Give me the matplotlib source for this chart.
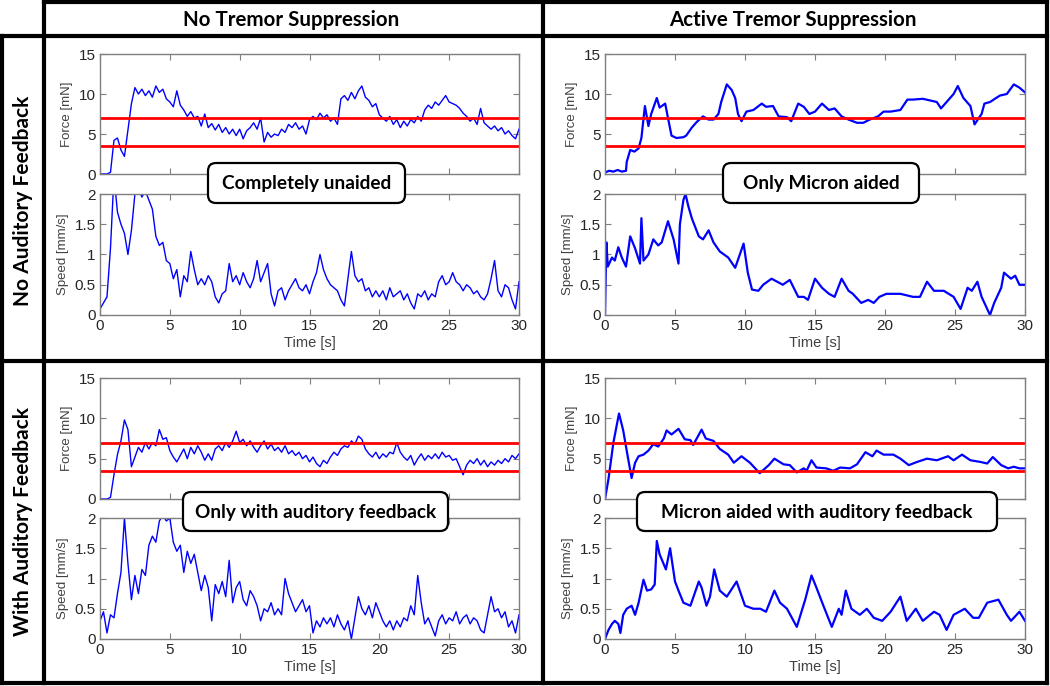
import numpy as np
import matplotlib
matplotlib.use("Agg")
import matplotlib.pyplot as plt
from matplotlib.patches import FancyBboxPatch

W, H = 1050, 686

# ---- data ----
t_grid = np.arange(121) * 0.25  # 0 .. 30 s

force_none = [
    0, 0, 0, 0.2, 4.2, 4.5, 3.0, 2.2, 5.5, 8.8, 10.8, 10.0, 10.6, 9.8, 10.4, 9.6,
    11.0, 10.2, 10.6, 9.4, 9.0, 8.4, 10.4, 8.6, 8.0, 7.2, 7.8, 7.0, 7.2, 6.0, 7.5, 5.8,
    6.3, 5.5, 6.2, 5.2, 5.8, 5.0, 5.6, 4.8, 5.6, 4.4, 5.4, 5.8, 6.4, 5.6, 7.0, 4.0,
    5.2, 4.6, 5.0, 4.8, 5.6, 5.2, 6.2, 5.8, 6.4, 5.6, 6.0, 5.0, 6.8, 7.2, 6.8, 7.6,
    7.0, 7.4, 6.6, 7.0, 6.2, 9.4, 9.8, 9.2, 10.2, 9.4, 10.4, 11.0, 9.6, 9.2, 8.4, 8.8,
    7.4, 7.0, 6.6, 7.2, 6.2, 6.8, 5.8, 6.6, 6.0, 6.8, 6.4, 7.2, 6.6, 8.0, 8.6, 8.2,
    9.0, 8.6, 9.2, 9.8, 9.0, 8.8, 8.6, 8.2, 7.6, 7.2, 6.6, 7.0, 6.2, 8.2, 6.4, 6.0,
    5.6, 6.0, 5.4, 5.8, 5.0, 5.4, 4.8, 4.4, 5.6,
]
speed_none = [
    0.10, 0.20, 0.30, 1.10, 2.30, 1.70, 1.50, 1.35, 1.00, 1.40, 2.00, 2.10, 1.95, 2.05, 1.90, 1.75,
    1.30, 1.15, 1.20, 0.90, 0.85, 0.60, 0.75, 0.30, 0.65, 0.55, 1.05, 0.75, 0.50, 0.60, 0.50, 0.65,
    0.55, 0.30, 0.20, 0.35, 0.40, 0.85, 0.55, 0.65, 0.50, 0.70, 0.55, 0.45, 0.60, 0.90, 0.55, 0.70,
    0.85, 0.35, 0.15, 0.40, 0.45, 0.25, 0.40, 0.50, 0.60, 0.45, 0.40, 0.50, 0.35, 0.55, 0.70, 1.00,
    0.75, 0.60, 0.50, 0.45, 0.40, 0.25, 0.15, 0.60, 1.05, 0.65, 0.55, 0.60, 0.40, 0.45, 0.30, 0.40,
    0.30, 0.40, 0.25, 0.45, 0.30, 0.35, 0.40, 0.25, 0.35, 0.20, 0.10, 0.35, 0.30, 0.40, 0.25, 0.35,
    0.30, 0.55, 0.65, 0.50, 0.55, 0.70, 0.55, 0.50, 0.40, 0.50, 0.45, 0.35, 0.40, 0.30, 0.25, 0.35,
    0.60, 0.90, 0.40, 0.30, 0.50, 0.45, 0.25, 0.10, 0.55,
]
force_audio = [
    0, 0, 0, 0.2, 3.0, 5.5, 7.2, 9.8, 8.6, 4.0, 5.2, 6.4, 5.8, 7.0, 6.2, 7.0,
    6.6, 8.6, 7.4, 7.6, 6.0, 5.2, 4.6, 5.4, 6.2, 5.0, 6.4, 5.6, 6.6, 5.8, 4.8, 5.6,
    4.8, 6.2, 6.6, 6.0, 7.0, 6.4, 7.2, 8.4, 7.0, 7.4, 6.6, 7.2, 6.4, 5.8, 6.6, 7.2,
    6.2, 6.8, 6.0, 6.4, 5.8, 6.6, 5.6, 6.0, 5.4, 5.8, 5.0, 5.4, 4.6, 5.2, 4.4, 4.0,
    4.8, 4.4, 5.2, 5.8, 5.4, 6.2, 6.6, 6.4, 7.2, 6.8, 7.8, 7.4, 6.2, 5.6, 5.2, 5.8,
    5.0, 5.6, 5.2, 5.8, 5.6, 7.0, 5.8, 5.2, 4.8, 5.4, 4.2, 5.0, 5.6, 4.8, 5.4, 5.0,
    5.6, 5.0, 5.8, 5.2, 5.4, 4.8, 5.0, 4.0, 3.0, 4.2, 4.8, 4.4, 5.0, 4.2, 4.8, 4.0,
    4.6, 4.2, 4.8, 4.4, 5.0, 4.6, 5.4, 5.0, 5.6,
]
speed_audio = [
    0.30, 0.45, 0.10, 0.40, 0.35, 0.75, 1.10, 2.00, 1.25, 0.65, 1.05, 0.75, 1.15, 1.05, 1.55, 1.70,
    1.60, 1.95, 2.05, 1.95, 2.00, 1.60, 1.45, 1.55, 1.10, 1.45, 1.25, 1.40, 1.10, 0.80, 1.05, 0.85,
    0.30, 0.90, 0.75, 0.95, 0.70, 1.30, 0.60, 0.85, 0.95, 0.65, 0.55, 0.80, 0.70, 0.55, 0.30, 0.50,
    0.45, 0.60, 0.40, 0.50, 0.40, 1.00, 0.75, 0.60, 0.45, 0.55, 0.65, 0.45, 0.55, 0.10, 0.30, 0.20,
    0.35, 0.25, 0.35, 0.20, 0.40, 0.25, 0.15, 0.30, 0.00, 0.35, 0.70, 0.50, 0.40, 0.55, 0.35, 0.60,
    0.45, 0.30, 0.20, 0.30, 0.15, 0.30, 0.20, 0.35, 0.30, 0.55, 0.40, 1.05, 0.60, 0.25, 0.35, 0.20,
    0.05, 0.30, 0.40, 0.25, 0.35, 0.30, 0.45, 0.25, 0.35, 0.40, 0.25, 0.35, 0.30, 0.15, 0.10, 0.40,
    0.70, 0.45, 0.50, 0.35, 0.45, 0.20, 0.30, 0.10, 0.40,
]

t_fm = [0, 0.3, 0.6, 0.9, 1.2, 1.5, 1.55, 1.8, 2.1, 2.4, 2.6, 2.85, 3.1, 3.3, 3.7, 3.9, 4.3, 4.5,
        4.75, 5.1, 5.6, 5.8, 6.2, 6.55, 7.0, 7.4, 7.75, 8.1, 8.3, 8.7, 9.05, 9.3, 9.5, 9.75, 10.1,
        10.6, 11.2, 11.5, 12.0, 12.4, 13.0, 13.3, 13.8, 14.2, 14.6, 15.0, 15.5, 16.0, 16.4, 16.9,
        17.4, 18.0, 18.45, 18.9, 19.5, 19.9, 20.4, 21.1, 21.6, 22.0, 22.7, 23.7, 24.0, 24.5, 24.9,
        25.2, 25.6, 26.1, 26.4, 26.7, 26.9, 27.1, 27.5, 28.2, 28.7, 29.2, 29.6, 30.0]
force_micron = [0.2, 0.4, 0.3, 0.5, 0.3, 0.4, 1.5, 3.0, 2.8, 3.2, 4.5, 8.5, 6.0, 7.5, 9.5, 8.3, 8.8, 7.0,
                4.8, 4.5, 4.6, 4.8, 5.8, 6.5, 7.2, 6.8, 6.8, 7.5, 9.0, 11.2, 10.5, 9.5, 7.5, 6.6, 7.8,
                8.0, 8.8, 8.4, 8.5, 7.2, 7.1, 6.6, 8.8, 8.4, 7.5, 7.8, 8.8, 8.0, 8.2, 7.2,
                6.8, 6.4, 6.4, 6.8, 7.2, 7.8, 7.8, 8.0, 9.3, 9.3, 9.4, 9.0, 8.2, 9.2, 10.0,
                11.0, 9.5, 8.5, 6.2, 7.0, 7.5, 8.8, 9.0, 9.8, 10.0, 11.2, 10.8, 10.2]

t_sm = [0, 0.1, 0.2, 0.5, 0.7, 0.95, 1.2, 1.5, 1.8, 2.15, 2.5, 2.6, 2.75, 3.1, 3.45, 3.8, 4.05, 4.5,
        4.9, 5.25, 5.35, 5.6, 5.75, 5.95, 6.2, 6.7, 7.0, 7.4, 7.75, 8.2, 8.8, 9.3, 9.9, 10.2, 10.5,
        10.95, 11.3, 11.9, 12.3, 12.7, 13.2, 13.8, 14.2, 14.5, 15.0, 15.5, 16.0, 16.4, 16.9, 17.4,
        17.7, 18.3, 18.8, 19.2, 19.6, 20.1, 21.1, 22.0, 22.5, 23.0, 23.5, 24.2, 24.9, 25.4, 25.9,
        26.2, 26.6, 26.9, 27.2, 27.5, 27.8, 28.3, 28.5, 29.0, 29.3, 29.6, 30.0]
speed_micron = [0.0, 1.2, 0.8, 0.95, 0.9, 1.12, 0.95, 0.8, 1.3, 1.1, 0.85, 1.6, 0.9, 1.0, 1.25, 1.15, 1.2, 1.55,
                1.25, 0.85, 1.5, 1.9, 2.0, 1.8, 1.6, 1.3, 1.25, 1.4, 1.2, 1.05, 0.95, 0.78, 1.18, 0.7, 0.42,
                0.4, 0.5, 0.6, 0.55, 0.5, 0.58, 0.3, 0.3, 0.25, 0.6, 0.45, 0.35, 0.3, 0.6, 0.4,
                0.35, 0.2, 0.25, 0.2, 0.3, 0.35, 0.35, 0.3, 0.3, 0.55, 0.4, 0.4, 0.3, 0.1, 0.45,
                0.4, 0.55, 0.3, 0.15, 0.0, 0.2, 0.45, 0.7, 0.6, 0.65, 0.5, 0.5]

t_fb = [0, 0.25, 0.6, 1.0, 1.3, 1.6, 1.9, 2.15, 2.4, 2.75, 3.1, 3.45, 3.8, 4.2, 4.4, 4.75, 5.25, 5.7,
        6.1, 6.3, 6.9, 7.2, 7.75, 8.2, 8.8, 9.2, 9.75, 10.35, 11.05, 11.7, 12.1, 12.75, 13.2, 13.7,
        14.2, 14.4, 14.75, 15.1, 15.8, 16.3, 16.8, 17.5, 18.0, 18.6, 19.1, 19.4, 19.9, 20.6, 21.1,
        21.7, 22.3, 23.0, 23.7, 24.5, 24.9, 25.5, 26.1, 26.8, 27.3, 27.7, 28.3, 28.8, 29.2, 29.6, 30.0]
force_both = [0, 2.5, 7.0, 10.6, 8.5, 5.5, 2.6, 4.5, 5.3, 5.5, 6.0, 6.8, 6.5, 7.5, 8.5, 8.0, 8.7, 7.4,
              7.3, 6.7, 8.6, 7.5, 7.2, 6.2, 5.5, 4.5, 5.3, 4.5, 3.2, 4.2, 5.0, 4.3, 4.2, 3.3,
              3.8, 3.5, 4.8, 3.9, 3.8, 3.5, 3.9, 3.8, 4.3, 5.8, 5.3, 6.0, 5.5, 5.5, 5.0,
              4.2, 4.6, 5.0, 4.8, 5.3, 4.8, 5.5, 4.8, 4.6, 4.4, 5.2, 4.2, 3.8, 4.0, 3.8, 3.8]

t_sb = [0, 0.25, 0.5, 0.7, 0.95, 1.1, 1.3, 1.55, 1.9, 2.15, 2.4, 2.75, 3.0, 3.3, 3.55, 3.7, 3.9, 4.35,
        4.65, 5.0, 5.25, 5.6, 6.1, 6.7, 6.9, 7.25, 7.5, 7.8, 8.2, 8.7, 9.4, 10.0, 10.6, 11.1, 11.5,
        12.1, 12.5, 13.0, 13.7, 14.3, 14.75, 15.1, 15.6, 16.2, 16.7, 16.9, 17.2, 17.6, 18.2, 18.7,
        19.2, 19.8, 20.4, 21.1, 21.55, 22.2, 22.7, 23.5, 23.9, 24.4, 24.9, 25.7, 26.3, 26.7, 27.3,
        28.1, 28.7, 29.0, 29.6, 30.0]
speed_both = [0, 0.15, 0.25, 0.3, 0.25, 0.1, 0.4, 0.5, 0.55, 0.4, 0.6, 0.98, 0.8, 0.82, 0.9, 1.62, 1.4, 1.15,
              1.5, 0.95, 0.8, 0.6, 0.55, 0.95, 0.85, 0.55, 0.7, 1.15, 0.8, 0.7, 0.95, 0.55, 0.5, 0.5, 0.45,
              0.8, 0.6, 0.5, 0.2, 0.65, 1.05, 0.85, 0.55, 0.2, 0.5, 0.4, 0.8, 0.5, 0.4, 0.5,
              0.35, 0.3, 0.45, 0.7, 0.3, 0.5, 0.3, 0.45, 0.4, 0.15, 0.4, 0.5, 0.35, 0.35, 0.6,
              0.65, 0.4, 0.3, 0.45, 0.3]

force_band = [3.5, 7.0]
col_titles = ["No Tremor Suppression", "Active Tremor Suppression"]
row_titles = ["No Auditory Feedback", "With Auditory Feedback"]
cell_labels = [["Completely unaided", "Only Micron aided"],
               ["Only with auditory feedback", "Micron aided with auditory feedback"]]

panels = [
    [(t_grid, force_none, t_grid, speed_none), (t_fm, force_micron, t_sm, speed_micron)],
    [(t_grid, force_audio, t_grid, speed_audio), (t_fb, force_both, t_sb, speed_both)],
]

# ---- layout (pixels) ----
col_x = [(100, 519), (605, 1025)]
row_y = [((54, 174), (194, 315)), ((378, 499), (518, 639))]
label_boxes = [[(208, 163, 405, 203), (723, 163, 919, 203)],
               [(183, 492, 448, 531), (637, 492, 997, 531)]]

plt.rcParams["font.family"] = ["Liberation Sans", "DejaVu Sans"]
fig = plt.figure(figsize=(W / 100, H / 100), dpi=100)
fig.patch.set_facecolor("white")

SPINE = "#7f7f7f"
TICK = "#262626"


def px_axes(x0, y0, x1, y1):
    return fig.add_axes([x0 / W, 1 - y1 / H, (x1 - x0) / W, (y1 - y0) / H])


def style(ax):
    for s in ax.spines.values():
        s.set_color(SPINE)
        s.set_linewidth(1.0)
    ax.tick_params(direction="in", top=True, right=True, length=4, width=0.8,
                   color=SPINE, labelcolor=TICK, labelsize=11, pad=3)
    ax.set_xlim(0, 30)
    ax.set_xticks([0, 5, 10, 15, 20, 25, 30])


for r in range(2):
    for c in range(2):
        tf, f, ts, s = panels[r][c]
        (fy0, fy1), (sy0, sy1) = row_y[r]
        x0, x1 = col_x[c]

        axf = px_axes(x0, fy0, x1, fy1)
        style(axf)
        axf.plot(tf, f, color="#0000ff", lw=1.0 if c == 0 else 1.6)
        for lvl in force_band:
            axf.axhline(lvl, color="#ff0000", lw=2)
        axf.set_ylim(0, 15)
        axf.set_yticks([0, 5, 10, 15])
        axf.set_xticklabels([])
        axf.set_ylabel("Force [mN]", fontsize=9.5, color="#404040", labelpad=4)

        axs = px_axes(x0, sy0, x1, sy1)
        style(axs)
        axs.plot(ts, s, color="#0000ff", lw=1.0 if c == 0 else 1.6)
        axs.set_ylim(0, 2)
        axs.set_yticks([0, 0.5, 1, 1.5, 2])
        axs.set_yticklabels(["0", "0.5", "1", "1.5", "2"])
        axs.set_ylabel("Speed [mm/s]", fontsize=9.5, color="#404040", labelpad=4)
        axs.set_xlabel("Time [s]", fontsize=10.5, color="#404040", labelpad=2)

# ---- table grid, headers and labels on top ----
ov = fig.add_axes([0, 0, 1, 1], zorder=10)
ov.set_xlim(0, W)
ov.set_ylim(H, 0)
ov.axis("off")
ov.patch.set_alpha(0)

lw = 3
ov.plot([44, 1047], [2, 2], color="k", lw=lw, solid_capstyle="projecting")
ov.plot([0, 1047], [35.5, 35.5], color="k", lw=lw, solid_capstyle="projecting")
ov.plot([0, 1047], [361, 361], color="k", lw=lw, solid_capstyle="projecting")
ov.plot([2, 1047], [683, 683], color="k", lw=lw, solid_capstyle="projecting")
ov.plot([2, 2], [35.5, 683], color="k", lw=lw, solid_capstyle="projecting")
ov.plot([44, 44], [2, 683], color="k", lw=lw, solid_capstyle="projecting")
ov.plot([543, 543], [2, 683], color="k", lw=lw, solid_capstyle="projecting")
ov.plot([1047, 1047], [2, 683], color="k", lw=lw, solid_capstyle="projecting")

head_font = dict(family=["Lato", "DejaVu Sans"], fontweight="bold", color="black")
ov.text(291, 20, col_titles[0], ha="center", va="center", fontsize=14.8, **head_font)
ov.text(793, 20, col_titles[1], ha="center", va="center", fontsize=14.8, **head_font)
ov.text(23, 201, row_titles[0], ha="center", va="center", rotation=90, fontsize=15, **head_font)
ov.text(23, 522, row_titles[1], ha="center", va="center", rotation=90, fontsize=15, **head_font)

for r in range(2):
    for c in range(2):
        bx0, by0, bx1, by1 = label_boxes[r][c]
        box = FancyBboxPatch((bx0, by0), bx1 - bx0, by1 - by0,
                             boxstyle="round,pad=0,rounding_size=8",
                             fc="white", ec="black", lw=1.6)
        ov.add_patch(box)
        ov.text((bx0 + bx1) / 2, (by0 + by1) / 2 + 1, cell_labels[r][c],
                ha="center", va="center", fontsize=13.7, **head_font)

fig.savefig("out.png", dpi=100)
